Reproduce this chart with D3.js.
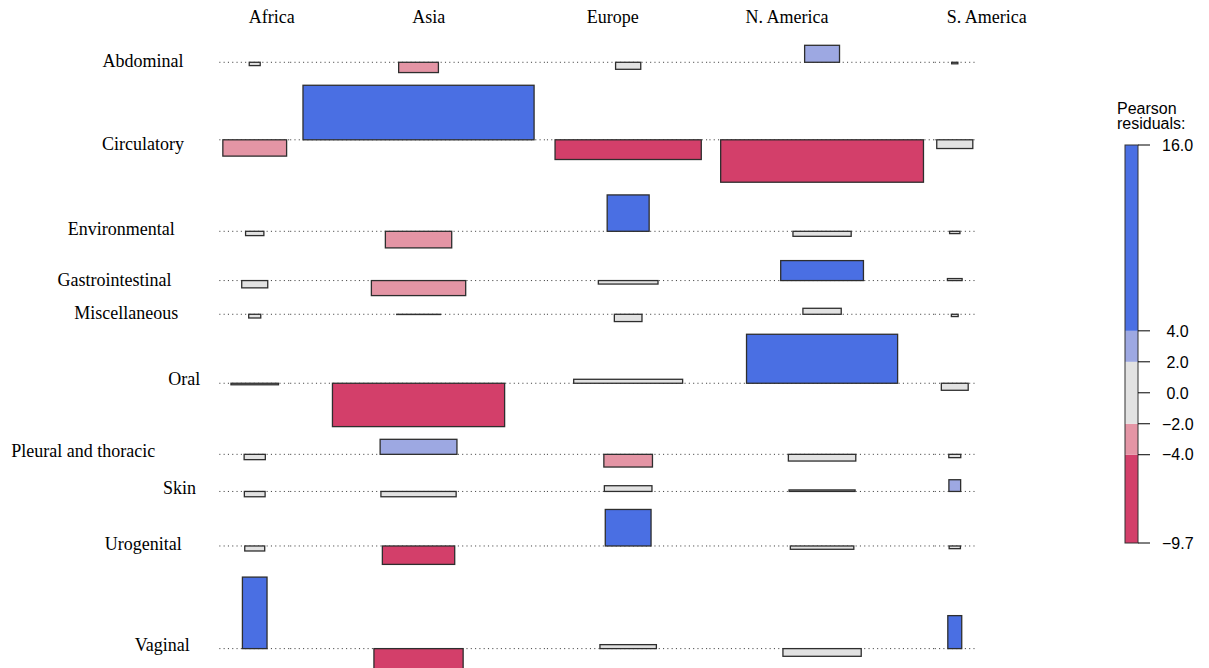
<!DOCTYPE html>
<html>
<head>
<meta charset="utf-8">
<script src="https://cdn.jsdelivr.net/npm/d3@7"></script>
<style>
  html, body { margin: 0; padding: 0; background: #fff; }
  svg { display: block; }
  .lab { font-family: "Liberation Serif", "Times New Roman", serif; font-size: 18px; fill: #000; }
  .leg { font-family: "Liberation Sans", Arial, Helvetica, sans-serif; font-size: 16px; fill: #000; white-space: pre; }
</style>
</head>
<body>
<svg id="chart" width="1209" height="668"></svg>
<script>
// Regions (columns) and sites (rows) of the contingency table
const regions = ["Africa", "Asia", "Europe", "N. America", "S. America"];
const sites = ["Abdominal", "Circulatory", "Environmental", "Gastrointestinal",
               "Miscellaneous", "Oral", "Pleural and thoracic", "Skin",
               "Urogenital", "Vaginal"];

// Pearson residuals, one row per site, columns in region order
const residuals = [
  [-0.74,  -2.30, -1.57,  3.80, -0.34],
  [-3.65,  12.20, -4.41, -9.49, -1.95],
  [-0.96,  -3.71,  8.14, -1.12, -0.51],
  [-1.63,  -3.36, -0.78,  4.47,  0.45],
  [-0.83,  -0.05, -1.63,  1.34, -0.51],
  [-0.34,  -9.70,  0.89, 10.96, -1.57],
  [-1.19,   3.36, -2.84, -1.50, -0.74],
  [-1.19,  -1.19,  1.28,  0.34,  2.62],
  [-1.12,  -4.12,  8.17, -0.74, -0.60],
  [16.00,  -6.50,  0.89, -1.72,  7.38]
];

// Marginal totals, used for the expected counts (bar widths ~ sqrt(expected))
const siteTotals = [296, 10000, 824, 1665, 357, 5550, 1105, 1060, 980, 1490];
const regionTotals = [782, 10272, 4113, 7911, 250];

// Residual-based shading
const shadeBreaks = [-4, -2, 2, 4];
const shadeColors = ["#D33F6A", "#E495A5", "#E2E2E2", "#9DA8E2", "#4A6FE3"];

// Label placement in the margins
const colLabelX = [271.8, 428.8, 612.8, 787, 986.7];
const rowLabelX = [143, 142.9, 121.3, 114.5, 126.2, 184.2, 83.3, 179.5, 143.3, 162.2];
const rowLabelY = [61, 143.8, 228.8, 280, 313, 379, 451, 488, 544.5, 645];

const W = 1209, H = 668;
const svg = d3.select("#chart");
svg.append("rect").attr("width", W).attr("height", H).attr("fill", "#fff");

// ---- horizontal layout: column widths from the largest sqrt(expected) in each column
const N = d3.sum(siteTotals);
const sqrtExp = sites.map((s, i) => regions.map((r, j) => Math.sqrt(siteTotals[i] * regionTotals[j] / N)));
const colWidth = regions.map((r, j) => d3.max(sqrtExp, row => row[j]));
const colStart = Array.from(d3.cumsum([0, ...colWidth]));
const x = d3.scaleLinear().domain([0, d3.sum(colWidth)]).range([219.3, 974.8]);
const colCenter = j => x(colStart[j] + colWidth[j] / 2);
const barFrac = 0.9;

// ---- vertical layout: each row spans its own residual range, common unit
const h = d3.scaleLinear().domain([0, 1]).range([0, 4.47]);
const rowGap = 12.7, plotTop = 45.3;
let cursor = plotTop;
const rowBase = sites.map((s, i) => {
  const hi = Math.max(0, d3.max(residuals[i]));
  const lo = Math.min(0, d3.min(residuals[i]));
  const base = cursor + h(hi);
  cursor = base + h(-lo) + rowGap;
  return base;
});

const shade = d3.scaleThreshold().domain(shadeBreaks).range(shadeColors);

const cells = [];
sites.forEach((s, i) => regions.forEach((r, j) => cells.push({ i, j, res: residuals[i][j], se: sqrtExp[i][j] })));

// dotted baselines, one per cell
svg.append("g").selectAll("line")
  .data(cells)
  .join("line")
  .attr("x1", d => x(colStart[d.j]))
  .attr("x2", d => x(colStart[d.j + 1]))
  .attr("y1", d => rowBase[d.i])
  .attr("y2", d => rowBase[d.i])
  .attr("stroke", "#444")
  .attr("stroke-width", 1)
  .attr("stroke-dasharray", "1.1 3.2");

// association bars: height ~ residual, width ~ sqrt(expected)
svg.append("g").selectAll("rect")
  .data(cells)
  .join("rect")
  .attr("x", d => colCenter(d.j) - (x(d.se * barFrac) - x(0)) / 2)
  .attr("width", d => x(d.se * barFrac) - x(0))
  .attr("y", d => d.res > 0 ? rowBase[d.i] - h(d.res) : rowBase[d.i])
  .attr("height", d => h(Math.abs(d.res)))
  .attr("fill", d => shade(d.res))
  .attr("stroke", "#2e2e2e")
  .attr("stroke-width", 1.3);

// column labels
svg.append("g").selectAll("text")
  .data(regions)
  .join("text")
  .attr("class", "lab")
  .attr("x", (d, j) => colLabelX[j])
  .attr("y", 22.7)
  .attr("text-anchor", "middle")
  .text(d => d);

// row labels
svg.append("g").selectAll("text")
  .data(sites)
  .join("text")
  .attr("class", "lab")
  .attr("x", (d, i) => rowLabelX[i])
  .attr("y", (d, i) => rowLabelY[i])
  .attr("dy", "0.33em")
  .attr("text-anchor", "middle")
  .text(d => d);

// ---- legend
const resExtent = d3.extent(residuals.flat());
const ly = d3.scaleLinear().domain(resExtent).range([543, 145]);
const stops = [resExtent[0], ...shadeBreaks, resExtent[1]];
const legX = 1125, legW = 13;
const leg = svg.append("g");
leg.selectAll("rect.band")
  .data(shadeColors)
  .join("rect")
  .attr("class", "band")
  .attr("x", legX)
  .attr("width", legW)
  .attr("y", (c, k) => ly(stops[k + 1]))
  .attr("height", (c, k) => ly(stops[k]) - ly(stops[k + 1]))
  .attr("fill", c => c);
leg.append("rect")
  .attr("x", legX).attr("y", ly(resExtent[1]))
  .attr("width", legW).attr("height", ly(resExtent[0]) - ly(resExtent[1]))
  .attr("fill", "none").attr("stroke", "#333").attr("stroke-width", 1);

const legendTicks = [resExtent[1], ...shadeBreaks.slice(2).reverse(), 0, ...shadeBreaks.slice(0, 2).reverse(), resExtent[0]];
const fmt = d3.format(".1f");
leg.selectAll("line.tick")
  .data(legendTicks)
  .join("line")
  .attr("class", "tick")
  .attr("x1", legX + legW).attr("x2", legX + legW + 12)
  .attr("y1", d => ly(d)).attr("y2", d => ly(d))
  .attr("stroke", "#000").attr("stroke-width", 1);
leg.selectAll("text.tl")
  .data(legendTicks)
  .join("text")
  .attr("class", "leg tl")
  .attr("x", 1162)
  .attr("y", d => ly(d))
  .attr("dy", "0.36em")
  .text(d => fmt(d).padStart(4, " "));

leg.append("text").attr("class", "leg").attr("x", 1117).attr("y", 114).text("Pearson");
leg.append("text").attr("class", "leg").attr("x", 1117).attr("y", 129).text("residuals:");
</script>
</body>
</html>
